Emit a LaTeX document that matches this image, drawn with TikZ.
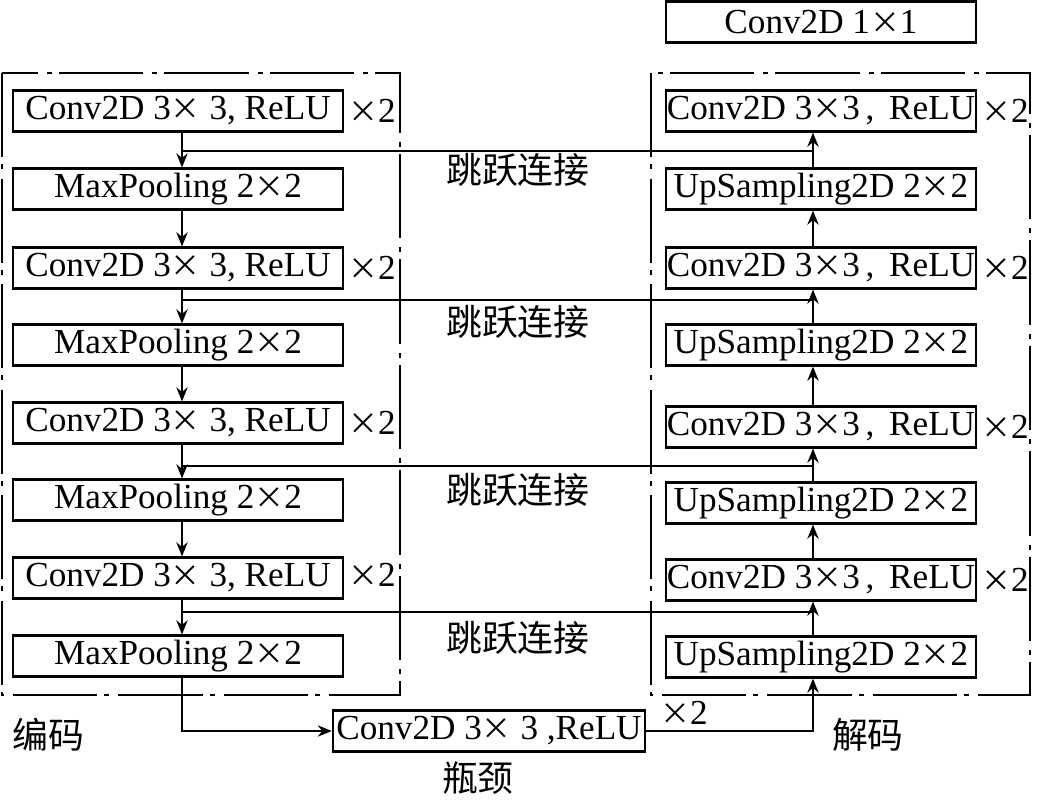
\documentclass[tikz,border=0pt]{standalone}
\usepackage{fontspec}
\setmainfont{Liberation Serif}
\newfontfamily\cjk{Noto Sans CJK SC}
\newcommand{\tms}{{\cjk\fontsize{8.5}{10}\selectfont ×}}
\usetikzlibrary{arrows.meta,positioning,calc}

\begin{document}
\begin{tikzpicture}[
    x=0.01cm,y=-0.01cm,
    font=\fontsize{10}{12}\selectfont,
    enc/.style={draw,line width=0.6pt,minimum width=3.3cm,minimum height=0.41cm,inner sep=0pt},
    dec/.style={draw,line width=0.6pt,minimum width=3.1cm,minimum height=0.41cm,inner sep=0pt},
    note/.style={font=\cjk\fontsize{10.2}{12}\selectfont},
    frame/.style={line width=0.6pt,dash pattern=on 24pt off 2pt on 1.4pt off 2.6pt},
    arr/.style={-{Stealth[length=4pt,width=3.2pt]},line width=0.6pt}
]
\useasboundingbox (0,0) rectangle (1041,802);

% encoder
\draw[frame] (2,73) rectangle (400,695);
\node[enc] (e1) at (178,111) {Conv2D 3\tms\ 3, ReLU};
\node[enc] (p1) at (178,189) {MaxPooling 2\tms 2};
\node[enc] (e2) at (178,268) {Conv2D 3\tms\ 3, ReLU};
\node[enc] (p2) at (178,345) {MaxPooling 2\tms 2};
\node[enc] (e3) at (178,423) {Conv2D 3\tms\ 3, ReLU};
\node[enc] (p3) at (178,500) {MaxPooling 2\tms 2};
\node[enc] (e4) at (178,578) {Conv2D 3\tms\ 3, ReLU};
\node[enc] (p4) at (178,656) {MaxPooling 2\tms 2};
\node (ne1) at (372,111) {\tms 2};
\node (ne2) at (372,268) {\tms 2};
\node (ne3) at (372,423) {\tms 2};
\node (ne4) at (372,575) {\tms 2};
\node[note] (enc) at (48,735) {编码};

% decoder
\draw[frame] (651,73) rectangle (1030,695);
\node[dec] (out) at (821,22) {Conv2D 1\tms 1};
\node[dec] (d1) at (821,111) {Conv2D 3\tms 3\,,\ \,ReLU};
\node[dec] (u1) at (821,189) {UpSampling2D 2\tms 2};
\node[dec] (d2) at (821,268) {Conv2D 3\tms 3\,,\ \,ReLU};
\node[dec] (u2) at (821,345) {UpSampling2D 2\tms 2};
\node[dec] (d3) at (821,427) {Conv2D 3\tms 3\,,\ \,ReLU};
\node[dec] (u3) at (821,503) {UpSampling2D 2\tms 2};
\node[dec] (d4) at (821,580) {Conv2D 3\tms 3\,,\ \,ReLU};
\node[dec] (u4) at (821,657) {UpSampling2D 2\tms 2};
\node (nd1) at (1005,111) {\tms 2};
\node (nd2) at (1005,268) {\tms 2};
\node (nd3) at (1005,427) {\tms 2};
\node (nd4) at (1005,580) {\tms 2};
\node[note] (dec) at (868,735) {解码};

% bottleneck
\node[dec,minimum width=3.12cm] (neck) at (489,731) {Conv2D 3\tms\ 3 ,ReLU};
\node (nn) at (684,713) {\tms 2};
\node[note] (neckname) at (478,778) {瓶颈};

\coordinate (lx) at (182,0);
\coordinate (rx) at (813,0);
\foreach \a/\b in {e1/p1,p1/e2,e2/p2,p2/e3,e3/p3,p3/e4,e4/p4}
    \draw[arr] (\a.south -| lx) -- (\b.north -| lx);
\foreach \a/\b in {u4/d4,d4/u3,u3/d3,d3/u2,u2/d2,d2/u1,u1/d1}
    \draw[arr] (\a.north -| rx) -- (\b.south -| rx);
\draw[arr] (p4.south -| lx) |- (neck.west);
\draw[arr] (neck.east) -| (u4.south -| rx);

% skip connections
\foreach \i/\y/\t in {1/151/170,2/300/322,3/466/490,4/612/638}{
    \coordinate (sl\i) at (182,\y);
    \coordinate (sr\i) at (813,\y);
    \draw[line width=0.6pt] (sl\i) -- (sr\i);
    \node[note] (skip\i) at (518,\t) {跳跃连接};
}
\end{tikzpicture}
\end{document}
